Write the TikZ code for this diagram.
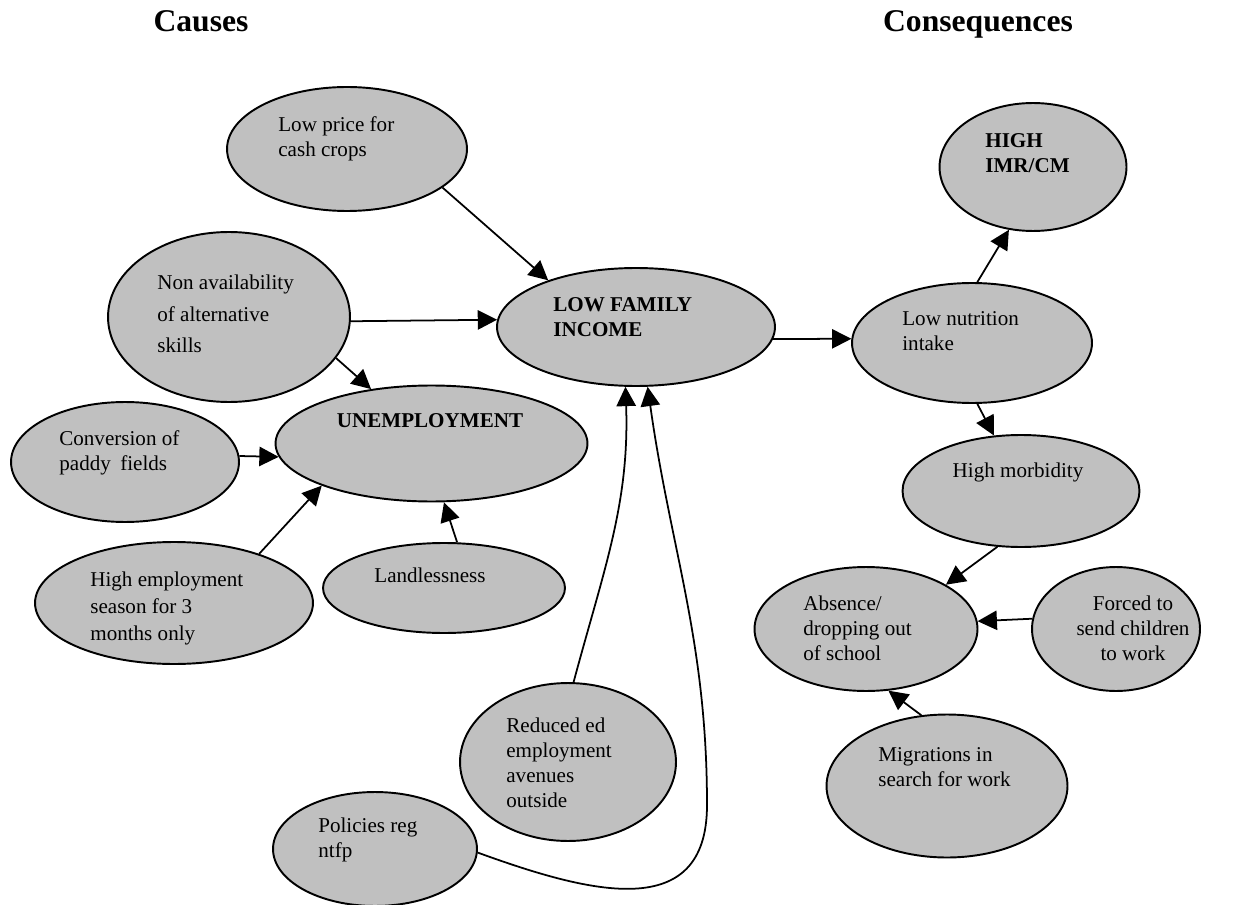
\documentclass[tikz,border=0pt]{standalone}
\usepackage{fontspec}
\setmainfont{Liberation Serif}
\usetikzlibrary{shapes.geometric,arrows.meta}
\definecolor{shade}{RGB}{192,192,192}

\begin{document}
\begin{tikzpicture}[x=0.02cm,y=-0.02cm,>={Triangle[length=11pt,width=11pt]},
  blob/.style={ellipse,draw=black,fill=shade,line width=1.1pt,inner sep=0pt},
  txt/.style={inner sep=0pt,align=left,anchor=north west,font=\fontsize{12}{14.2}\selectfont},
  ctxt/.style={txt,align=center,anchor=north},
  head/.style={inner sep=0pt,anchor=base,font=\fontsize{18}{21}\selectfont\bfseries},
  link/.style={->,line width=1pt}]
\useasboundingbox (0,0) rectangle (1233,905);

\node[head] (causes) at (201,32) {Causes};
\node[head] (conseq) at (978,32) {Consequences};

% causes
\node[blob,minimum width=4.80cm,minimum height=2.48cm] (lowprice) at (347,149) {};
\node[blob,minimum width=4.84cm,minimum height=3.40cm] (nonavail) at (229,317) {};
\node[blob,minimum width=5.56cm,minimum height=2.36cm] (lfi) at (636,327) {};
\node[blob,minimum width=6.24cm,minimum height=2.32cm] (unemp) at (431.5,443.5) {};
\node[blob,minimum width=4.56cm,minimum height=2.40cm] (conv) at (125,462) {};
\node[blob,minimum width=5.56cm,minimum height=2.44cm] (highemp) at (174,603) {};
\node[blob,minimum width=4.84cm,minimum height=1.80cm] (landless) at (444,588) {};
\node[blob,minimum width=4.32cm,minimum height=3.16cm] (reduced) at (568,762) {};
\node[blob,minimum width=4.08cm,minimum height=2.28cm] (policies) at (375,849) {};

\node[txt] (lowprice-t) at (278,116) {Low price for\\cash crops};
\node[txt] (nonavail-t) at (157,275) {Non availability\\[3.7pt]of alternative\\[3.7pt]skills};
\node[txt,font=\fontsize{12}{14.2}\selectfont\bfseries] (lfi-t) at (553,297) {LOW FAMILY\\INCOME};
\node[ctxt,font=\fontsize{12}{14.2}\selectfont\bfseries] (unemp-t) at (430,413) {UNEMPLOYMENT};
\node[txt] (conv-t) at (59,430) {Conversion of\\paddy\hspace{0.45em}fields};
\node[txt] (highemp-t) at (90,572) {High employment\\[1pt]season for 3\\[1pt]months only};
\node[ctxt] (landless-t) at (430,568) {Landlessness};
\node[txt] (reduced-t) at (506,718) {Reduced ed\\employment\\avenues\\outside};
\node[txt] (policies-t) at (318,818) {Policies reg\\ntfp};

% consequences
\node[blob,minimum width=4.80cm,minimum height=2.40cm] (lownut) at (972,343) {};
\node[blob,minimum width=3.74cm,minimum height=2.56cm] (highimr) at (1033,167) {};
\node[blob,minimum width=4.74cm,minimum height=2.24cm] (morb) at (1021,491) {};
\node[blob,minimum width=4.46cm,minimum height=2.48cm] (absence) at (866,629) {};
\node[blob,minimum width=3.36cm,minimum height=2.48cm] (forced) at (1116,629) {};
\node[blob,minimum width=4.82cm,minimum height=2.86cm] (migr) at (947,786) {};

\node[txt] (lownut-t) at (902,311) {Low nutrition\\intake};
\node[txt,font=\fontsize{12}{14.2}\selectfont\bfseries] (highimr-t) at (985,133) {HIGH\\IMR/CM};
\node[ctxt] (morb-t) at (1018,463) {High morbidity};
\node[txt] (absence-t) at (803,596) {Absence/\\dropping out\\of school};
\node[ctxt] (forced-t) at (1133,596) {Forced to\\send children\\to work};
\node[txt] (migr-t) at (878,747) {Migrations in\\search for work};

\draw[link] (lowprice.-22) -- (lfi.152);
\draw[link] (nonavail.-2) -- (lfi.177.9);
\draw[link] (nonavail.-21.4) -- (unemp.138.8);
\draw[link] (conv.3.5) -- (unemp.-175.7);
\draw[link] (highemp.30.6) -- (unemp.201);
\draw[link] (landless.74) -- (unemp.-78);
\draw[link] (reduced.86) to[out=75,in=-88] (lfi.-100);
\coordinate (loop) at (707,805);
\draw[link] (policies.-2) to[out=-20,in=-90,looseness=1.3] (loop) to[out=90,in=-82] (lfi.-79);

\draw[link] (lfi.-5) -- (lownut.178);
\draw[link] (lownut.85) -- (highimr.249);
\draw[link] (lownut.-85) -- (morb.116.6);
\draw[link] (morb.-113) -- (absence.29.6);
\draw[link] (forced.173.8) -- (absence.4.7);
\draw[link] (migr.110) -- (absence.-70);
\end{tikzpicture}
\end{document}
